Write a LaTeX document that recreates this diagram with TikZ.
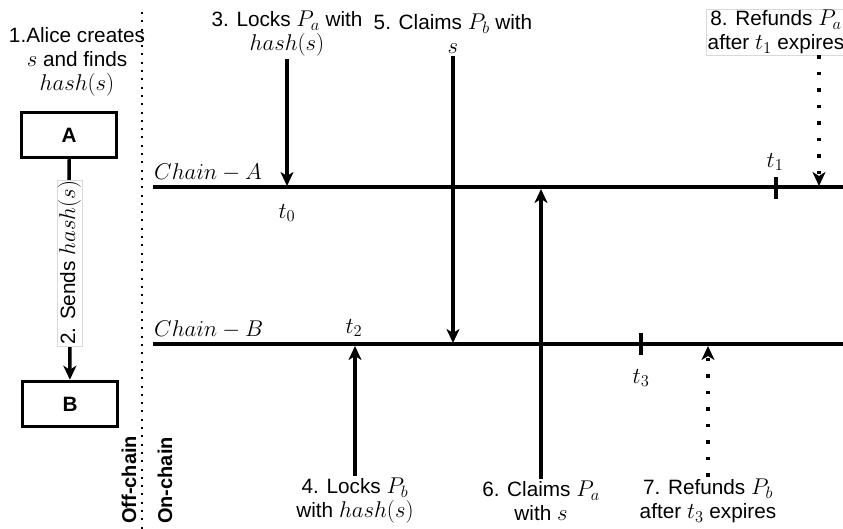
\documentclass[tikz,border=0pt]{standalone}
\usepackage{fix-cm}
\usepackage{fontspec}
\setmainfont{Liberation Sans}
\DeclareMathSizes{20.74}{22.8}{16.5}{12}
\DeclareMathSizes{20}{22.8}{16.5}{12}
\usetikzlibrary{arrows.meta,positioning}
\begin{document}
\begin{tikzpicture}[x=1pt,y=-1pt,
		font=\fontsize{20.74}{24}\selectfont,
		ln/.style={line width=3.5pt},
		arr/.style={line width=3.5pt,-{Stealth[length=14pt,width=13pt,inset=4pt]}},
		dotarr/.style={arr,dash pattern=on 3.5pt off 13pt},
		lbl/.style={align=center,inner sep=2pt},
		box/.style={draw,line width=3.5pt,minimum width=95pt,minimum height=45pt,font=\fontsize{20.74}{24}\selectfont\bfseries},
		side/.style={rotate=90,anchor=west,inner sep=0pt,font=\fontsize{20}{24}\selectfont\bfseries}]
			\useasboundingbox (0,0) rectangle (843,529);
			\def\yA{187}
			\def\yB{344}
			\coordinate (A0) at (153,\yA);
			\coordinate (A1) at (843,\yA);
			\coordinate (B0) at (153,\yB);
			\coordinate (B1) at (843,\yB);
			\draw[ln] (A0) -- (A1);
			\draw[ln] (B0) -- (B1);
			\node[anchor=base west,inner sep=0pt] (cA) at (154,180) {$Chain-A$};
			\node[anchor=base west,inner sep=0pt] (cB) at (154,336) {$Chain-B$};
			\draw[line width=2pt,dash pattern=on 2pt off 6.3pt] (142,12) -- (142,529);
			\node[side] (off) at (129,524) {Off-chain};
			\node[side] (on) at (165,524) {On-chain};
			\node[box] (A) at (69,135) {A};
			\node[box] (B) at (70,404) {B};
			\node[lbl] (L1) at (77,62) {1.Alice creates\\$s$ and finds\\$hash(s)$};
			\draw[arr] (A) -- node[lbl,rotate=90,fill=white,draw=gray!30,line width=0.5pt,inner sep=1pt,pos=0.47] (L2) {2. Sends $hash(s)$} (B);
			\node[lbl] (L3) at (287,34) {3. Locks $P_a$ with\\$hash(s)$};
			\node[lbl] (L5) at (453,34) {5. Claims $P_b$ with\\$s$};
			\node[lbl,fill=white,draw=gray!30,line width=0.5pt,inner sep=1pt] (L8) at (776,32) {8. Refunds $P_a$\\after $t_1$ expires};
			\node[lbl] (L4) at (355,501) {4. Locks $P_b$\\with $hash(s)$};
			\node[lbl] (L6) at (541,501) {6. Claims $P_a$\\with $s$};
			\node[lbl] (L7) at (708,501) {7. Refunds $P_b$\\after $t_3$ expires};
			\coordinate (p3) at (287,186);
			\coordinate (p5) at (453,343);
			\coordinate (p8) at (819,186);
			\coordinate (p4) at (355,346);
			\coordinate (p6) at (541,189);
			\coordinate (p7) at (708,346);
			\draw[arr] (L3) -- (p3);
			\draw[arr] (L5) -- (p5);
			\draw[dotarr] (L8.south -| p8) -- (p8);
			\draw[arr] (L4) -- (p4);
			\draw[arr] (L6) -- (p6);
			\draw[dotarr] (L7) -- (p7);
			\draw[ln] (776,177) -- (776,199);
			\draw[ln] (641,333) -- (641,355);
			\node (t0) at (287,213) {$t_0$};
			\node (t1) at (775,162) {$t_1$};
			\node (t2) at (354,328) {$t_2$};
			\node (t3) at (641,378) {$t_3$};
		\end{tikzpicture}
\end{document}
